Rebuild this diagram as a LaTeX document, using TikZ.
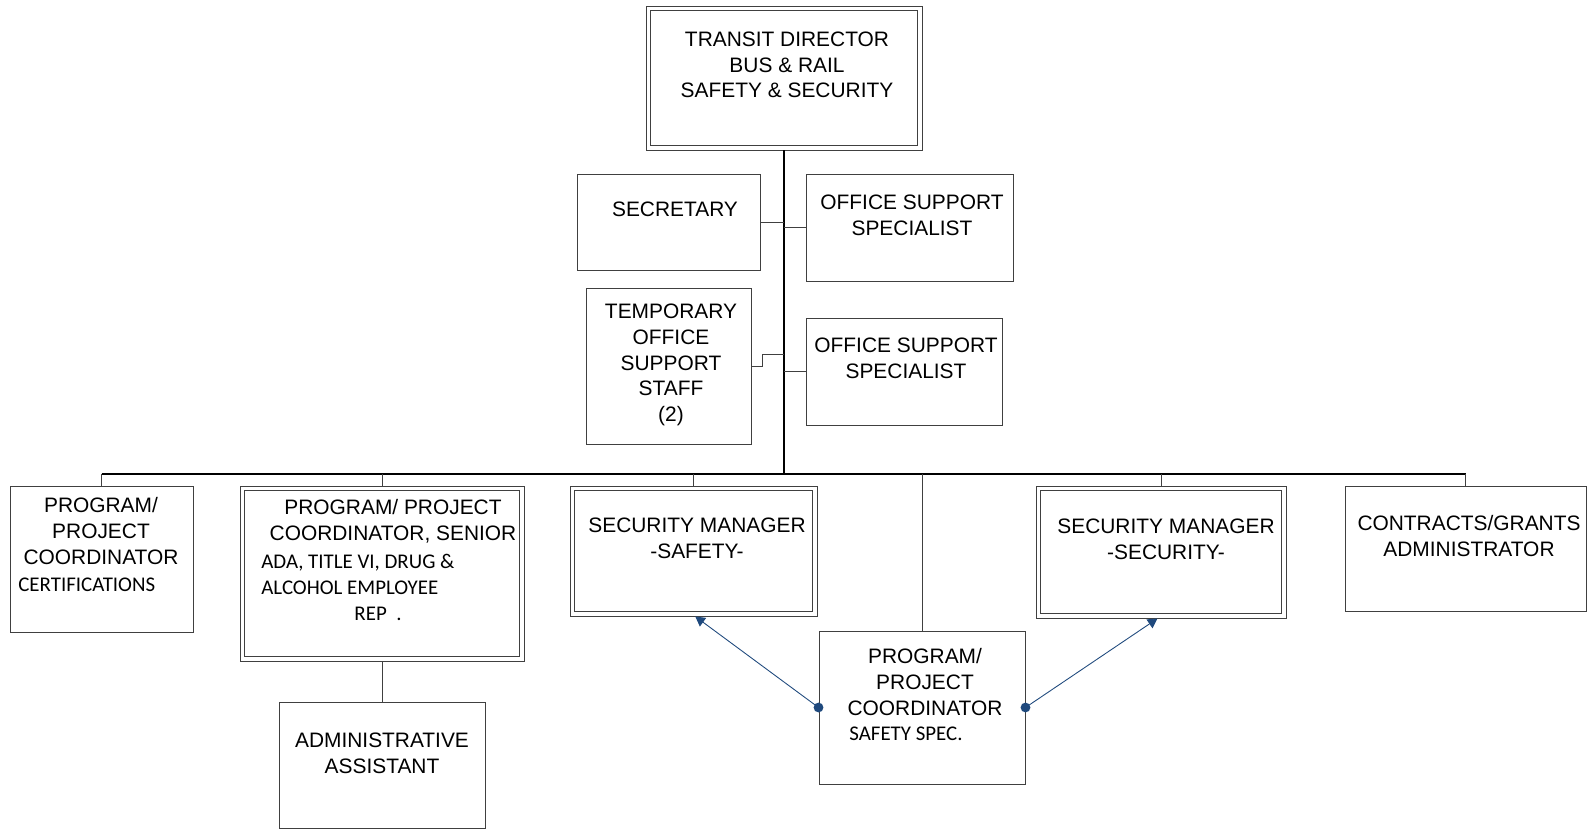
\documentclass[tikz,border=0pt]{standalone}
\usepackage{fontspec}
\setmainfont{Liberation Sans}
\newfontfamily\calfont{Carlito}
\usetikzlibrary{fit,arrows.meta}
\definecolor{arrblue}{RGB}{31,73,125}
\definecolor{edgegray}{RGB}{64,64,64}

\begin{document}
\begin{tikzpicture}[x=0.02cm, y=-0.02cm,
    box/.style={draw=edgegray, line width=0.55pt, inner sep=0pt},
    inbox/.style={draw=edgegray, line width=0.55pt, inner sep=-2.8pt},
    txt/.style={align=center, inner sep=0pt, font=\fontsize{11.9}{14.6}\selectfont},
    small/.style={align=left, inner sep=0pt, anchor=west, font=\calfont\fontsize{11.9}{14.8}\selectfont},
    link/.style={draw=edgegray, line width=0.55pt},
    rel/.style={draw=arrblue, line width=0.5pt, -{Triangle[width=6pt,length=5.5pt]}}]
    \useasboundingbox (0,0) rectangle (1592,830);

    \node[box, fit={(646,6) (922,150)}] (dir) {};
    \node[inbox, fit=(dir)] (dirin) {};
    \node[box, fit={(577,174) (760,270)}] (sec) {};
    \node[box, fit={(806,174) (1013,281)}] (oss1) {};
    \node[box, fit={(586,288) (751,444)}] (tmp) {};
    \node[box, fit={(806,318) (1002,425)}] (oss2) {};

    \node[box, fit={(10,486) (193,632)}] (ppc1) {};
    \node[box, fit={(240,486) (524,661)}] (sen) {};
    \node[inbox, fit=(sen)] (senin) {};
    \node[box, fit={(279,702) (485,828)}] (adm) {};
    \node[box, fit={(570,486) (817,616)}] (sms) {};
    \node[inbox, fit=(sms)] (smsin) {};
    \node[box, fit={(819,631) (1025,784)}] (ppcs) {};
    \node[box, fit={(1036,486) (1286,618)}] (smy) {};
    \node[inbox, fit=(smy)] (smyin) {};
    \node[box, fit={(1345,486) (1586,611)}] (cga) {};

    \node[txt] (dirt) at (787,65) {TRANSIT DIRECTOR\\BUS \& RAIL\\SAFETY \& SECURITY};
    \node[txt] (sect) at (675,209) {SECRETARY};
    \node[txt] (oss1t) at (912,215) {OFFICE SUPPORT\\SPECIALIST};
    \node[txt] (tmpt) at (671,365) {TEMPORARY\\OFFICE\\SUPPORT\\STAFF\\(2)};
    \node[txt] (oss2t) at (906,358) {OFFICE SUPPORT\\SPECIALIST};
    \node[txt] (ppc1t) at (101,531) {PROGRAM/\\PROJECT\\COORDINATOR};
    \node[small] (ppc1s) at (18,585) {CERTIFICATIONS};
    \node[txt] (sent) at (393,521) {PROGRAM/ PROJECT\\COORDINATOR, SENIOR};
    \node[small] (sens) at (261,587) {ADA, TITLE VI, DRUG \&\\ALCOHOL EMPLOYEE\\\hspace*{53pt}REP\ \ .};
    \node[txt] (admt) at (382,753) {ADMINISTRATIVE\\ASSISTANT};
    \node[txt] (smst) at (697,538) {SECURITY MANAGER\\-SAFETY-};
    \node[txt] (ppcst) at (925,682) {PROGRAM/\\PROJECT\\COORDINATOR};
    \node[small] (ppcss) at (849,734) {SAFETY SPEC.};
    \node[txt] (smyt) at (1166,539) {SECURITY MANAGER\\-SECURITY-};
    \node[txt] (cgat) at (1469,536) {CONTRACTS/GRANTS\\ADMINISTRATOR};

    \coordinate (bus) at (784,474);
    \draw[line width=1.4pt] (dir.south) -- (bus);
    \draw[line width=0.9pt] (ppc1.north |- bus) -- (cga.north |- bus);
    \foreach \n in {ppc1,sen,sms,ppcs,smy,cga}
        \draw[link] (\n.north |- bus) -- (\n.north);
    \draw[link] (sen.south) -- (adm.north);

    \draw[link] (sec.east) -- (sec.east -| bus);
    \draw[link] (oss1.west -| bus) -- (oss1.west);
    \draw[link] (tmp.east) -- ++(11,0) |- (bus |- 0,354);
    \draw[link] (oss2.west -| bus) -- (oss2.west);

    \draw[rel] (ppcs.west) -- ([xshift=1pt]sms.south);
    \draw[rel] (ppcs.east) -- ([xshift=-2pt]smy.south);
    \fill[arrblue] (ppcs.west) circle (2.8pt);
    \fill[arrblue] (ppcs.east) circle (2.8pt);
\end{tikzpicture}
\end{document}
